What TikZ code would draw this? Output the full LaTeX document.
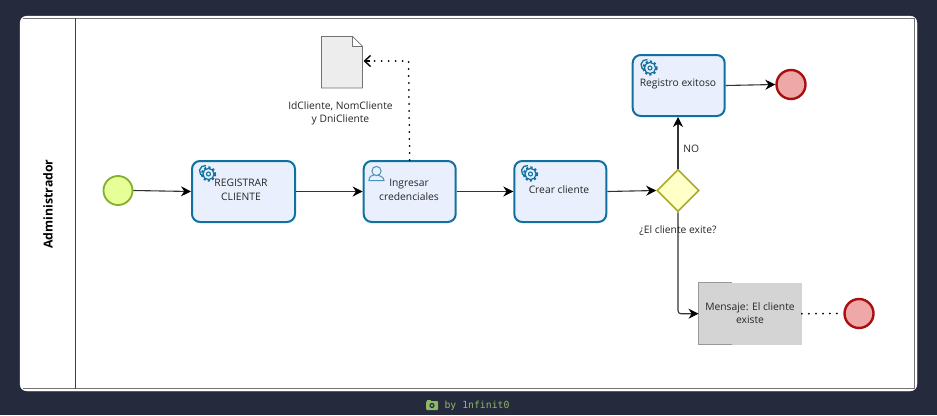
\documentclass[tikz,border=0pt]{standalone}
\usepackage{fontspec}
\setmainfont{Open Sans}
\newfontfamily\footfont{DejaVu Sans Mono}
\usetikzlibrary{arrows.meta,shapes.geometric}
\definecolor{darkbg}{HTML}{252A3D}
\definecolor{taskblue}{HTML}{10719F}
\definecolor{taskfill}{HTML}{E9EFFD}
\definecolor{flowgray}{HTML}{333333}
\definecolor{footgreen}{HTML}{8DB966}
\definecolor{startline}{HTML}{82B02E}
\definecolor{startfill}{HTML}{E6FF97}
\definecolor{endline}{HTML}{A80F0F}
\definecolor{endfill}{HTML}{EFA8A8}
\definecolor{gateline}{HTML}{ABAB2A}
\definecolor{gatefill}{HTML}{FFFFC8}
\tikzset{
  taskbox/.style={draw=taskblue,fill=taskfill,line width=2pt,rounded corners=8pt,inner sep=0pt,anchor=north west,align=center,text=black!80},
  startev/.style={circle,draw=startline,fill=startfill,line width=1.8pt,minimum size=29pt,inner sep=0pt},
  endev/.style={circle,draw=endline,fill=endfill,line width=2.4pt,minimum size=29pt,inner sep=0pt},
  flow/.style={draw=flowgray,line width=1.1pt,-{Stealth[length=10pt,width=10pt,black]}},
  dots/.style={black,line width=2pt,line cap=round,dash pattern=on 0pt off 7pt},
  lbl/.style={font=\fontsize{10.3}{13.4}\selectfont,align=center,text=black!85},
  pics/gearicon/.style={code={
    \draw[taskblue,line width=1.3pt] (-3.5,-3) ++(100:5.5) arc (100:280:5.5);
    \draw[taskblue,line width=1.2pt,fill=taskfill] (0,0) circle (5.6);
    \draw[taskblue,line width=2pt,dash pattern=on 2.2pt off 2.2pt] (0,0) circle (6.6);
    \draw[taskblue,line width=1.1pt] (0,0) circle (2);
  }},
}
\begin{document}
\begin{tikzpicture}[x=1pt,y=-1pt]
\useasboundingbox (0,0) rectangle (937,415);
\fill[darkbg] (0,0) rectangle (937,415);
\filldraw[draw=white,fill=white,rounded corners=7pt] (20,16) rectangle (917,391);
\draw[black!55,line width=.7pt] (22.5,18) -- (914.5,18) -- (914.5,388.5) -- (22.5,388.5);
\draw[black!75,line width=1pt] (75,18) -- (75,388.5);
\node[rotate=90,font=\bfseries\fontsize{12.3}{14}\selectfont] (lane) at (48,204) {Administrador};
% events and tasks
\node[startev] (inicio) at (118,190.5) {};
\node[taskbox,minimum width=103pt,minimum height=61pt] (registrar) at (191,160) {};
\node[lbl] (registrartxt) at (241,190) {REGISTRAR\\CLIENTE};
\node[taskbox,minimum width=92pt,minimum height=61pt] (ingresar) at (362.7,160) {};
\node[lbl] (ingresartxt) at (409,190) {Ingresar\\credenciales};
\node[taskbox,minimum width=92pt,minimum height=61pt] (crear) at (513.3,160) {};
\node[lbl] (creartxt) at (559,189.5) {Crear cliente};
\node[taskbox,minimum width=92pt,minimum height=61pt] (registro) at (631.7,54) {};
\node[lbl] (registrotxt) at (678,83.5) {Registro exitoso};
\node[diamond,draw=gateline,fill=gatefill,line width=1.6pt,minimum size=42pt,inner sep=0pt] (puerta) at (678,190.5) {};
\node[endev] (fin) at (791,84.5) {};
\node[endev] (finmsg) at (859,313.5) {};
% message box
\node[fill=black!17,minimum width=103pt,minimum height=62pt,inner sep=0pt,anchor=north west] (mensaje) at (698.5,282.5) {};
\draw[black!40,line width=1pt] (732,282.5) -- (698.5,282.5) -- (698.5,344.5) -- (732,344.5);
\node[lbl] (mensajetxt) at (750,313) {Mensaje: El cliente\\existe};
% data object
\draw[black!55,fill=black!7,line width=.9pt] (321.5,36.5) -- (352.5,36.5) -- (362.5,46.5) -- (362.5,88) -- (321.5,88) -- cycle;
\draw[black!55,fill=white,line width=.7pt] (352.5,36.5) -- (352.5,46.5) -- (362.5,46.5) -- cycle;
\coordinate (doc) at (363.5,61);
\node[lbl] (doctxt) at (340.5,113.5) {IdCliente, NomCliente\\y DniCliente};
% icons
\pic at (208.5,174) {gearicon};
\pic at (530.5,174) {gearicon};
\pic at (650,68) {gearicon};
\draw[taskblue!75,line width=1pt,fill=taskfill] (369,180.5) .. controls (369,176) and (372,175.5) .. (375,174.5) .. controls (378,175.5) and (384,176) .. (384,180.5) -- cycle;
\draw[taskblue!75,line width=1pt,fill=taskfill] (376.5,171) circle (4.6);
% flows
\draw[flow] (inicio.east) -- (registrar.west);
\draw[flow] (registrar.east) -- (ingresar.west);
\draw[flow] (ingresar.east) -- (crear.west);
\draw[flow] (crear.east) -- (puerta.west);
\draw[flow] (puerta.north) -- node[lbl,pos=.39,right=1.5pt] (notxt) {NO} (puerta.north |- registro.south);
\draw[flow] (registro.east) -- (fin.west);
\draw[flow,rounded corners=3pt] (puerta.south) |- (mensaje.west);
\draw[dots] (mensaje.east) -- (finmsg.west);
\draw[dots] (ingresar.north) -- (408.5,61) -- (370,61);
\draw[black,line width=1.4pt,-{Straight Barb[length=6pt,width=11pt]}] (370,61) -- (doc);
\node[lbl] (puertatxt) at (678,231) {¿El cliente exite?};
% footer
\fill[footgreen,rounded corners=1pt] (426,401) rectangle (438,410);
\fill[footgreen] (426.5,400) rectangle (431,402);
\fill[darkbg] (432,405.5) circle (2.6);
\fill[footgreen] (432,405.5) circle (1.3);
\node[font=\footfont\fontsize{9.8}{12}\selectfont,text=footgreen,inner sep=0pt] (firma) at (477,405.5) {by 1nfinit0};
\end{tikzpicture}
\end{document}
